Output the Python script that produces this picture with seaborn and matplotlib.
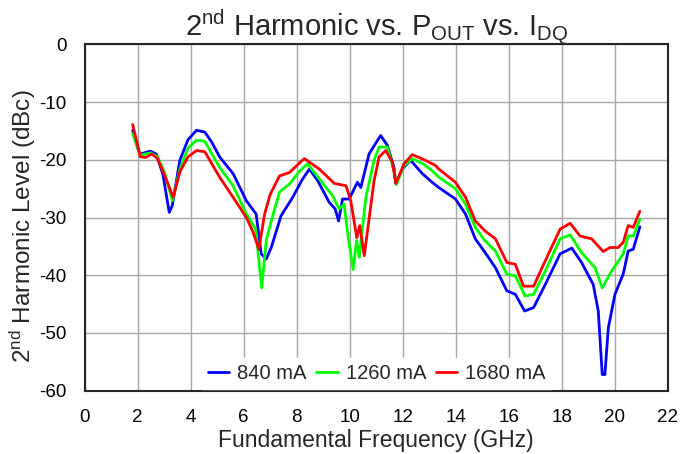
import numpy as np
import pandas as pd
import matplotlib
matplotlib.use("Agg")
import matplotlib.pyplot as plt
import seaborn as sns

# Second-harmonic level (dBc) vs fundamental frequency (GHz) for three quiescent currents
freq_840 = [1.81, 2.0, 2.1, 2.47, 2.7, 2.95, 3.19, 3.3, 3.59, 3.9, 4.22, 4.53, 4.8, 5.09,
            5.6, 6.1, 6.47, 6.66, 6.85, 7.04, 7.41, 7.85, 8.2, 8.48, 8.79, 9.23, 9.45,
            9.58, 9.73, 9.98, 10.29, 10.42, 10.73, 11.0, 11.17, 11.42, 11.67, 11.74,
            12.0, 12.3, 12.74, 13.11, 13.36, 13.99, 14.37, 14.74, 15.1, 15.5, 15.93,
            16.25, 16.6, 16.94, 17.38, 17.94, 18.38, 18.75, 19.19, 19.38, 19.53, 19.63,
            19.76, 20.01, 20.32, 20.51, 20.7, 20.95]
h2_840 = [-14.9, -18.0, -19.0, -18.5, -19.0, -22.5, -29.1, -28.0, -20.1, -16.5, -14.9,
          -15.2, -17.0, -19.5, -22.4, -27.1, -29.4, -36.3, -37.2, -35.2, -29.7, -26.5,
          -23.5, -21.6, -23.6, -27.4, -28.5, -30.6, -26.8, -26.8, -23.9, -24.8, -19.0,
          -17.0, -15.8, -17.5, -21.3, -24.1, -21.5, -20.1, -22.4, -23.9, -24.8, -26.8,
          -29.4, -33.7, -36.0, -38.7, -42.7, -43.3, -46.2, -45.6, -41.6, -36.3, -35.3,
          -37.8, -41.6, -46.2, -57.2, -57.2, -49.1, -43.3, -39.8, -35.8, -35.5, -31.6]

freq_1260 = [1.81, 2.1, 2.5, 2.75, 3.0, 3.31, 3.6, 3.9, 4.22, 4.53, 5.09, 5.6, 6.1, 6.45,
             6.68, 6.85, 7.04, 7.35, 7.73, 8.1, 8.41, 8.85, 9.35, 9.6, 9.79, 9.95, 10.13,
             10.26, 10.36, 10.61, 10.92, 11.11, 11.42, 11.67, 11.76, 12.05, 12.36, 12.8,
             13.11, 13.36, 13.99, 14.37, 14.74, 15.1, 15.5, 15.93, 16.25, 16.62, 16.94,
             17.38, 17.94, 18.32, 18.75, 19.26, 19.53, 19.88, 20.32, 20.51, 20.7, 20.95]
h2_1260 = [-15.5, -19.2, -18.8, -19.5, -22.0, -27.1, -21.5, -18.0, -16.6, -16.8, -21.3,
           -24.5, -29.4, -32.0, -42.2, -34.0, -30.6, -25.6, -24.2, -22.0, -20.7, -23.3,
           -26.2, -28.5, -27.7, -33.7, -39.0, -34.0, -36.9, -26.5, -20.1, -17.8, -17.8,
           -21.9, -24.3, -21.0, -19.8, -20.8, -21.9, -23.0, -25.0, -27.7, -31.7, -34.0,
           -35.8, -39.8, -40.1, -43.6, -43.3, -39.3, -33.7, -33.0, -36.1, -38.7, -42.2,
           -39.3, -36.3, -33.2, -33.2, -30.3]

freq_1680 = [1.81, 2.1, 2.3, 2.53, 2.75, 3.0, 3.34, 3.6, 3.9, 4.22, 4.53, 5.09, 5.6, 6.1,
             6.35, 6.57, 6.79, 7.0, 7.35, 7.73, 8.0, 8.29, 8.85, 9.42, 9.86, 10.04, 10.27,
             10.38, 10.55, 10.92, 11.11, 11.36, 11.61, 11.74, 12.05, 12.36, 12.86, 13.24,
             13.36, 13.99, 14.37, 14.74, 15.1, 15.5, 15.93, 16.25, 16.56, 16.94, 17.38,
             17.94, 18.32, 18.69, 19.13, 19.57, 19.82, 20.13, 20.32, 20.51, 20.7, 20.95]
h2_1680 = [-13.9, -19.5, -19.6, -19.0, -19.8, -22.5, -26.5, -22.0, -19.5, -18.4, -18.6,
           -23.0, -26.5, -30.0, -32.5, -35.5, -29.4, -26.0, -22.8, -22.2, -21.0, -19.8,
           -21.6, -24.1, -24.5, -27.1, -33.5, -31.4, -36.6, -23.6, -19.5, -18.4, -20.4,
           -24.1, -20.7, -19.1, -20.1, -21.0, -21.6, -23.9, -26.5, -30.6, -32.3, -33.7,
           -37.8, -38.1, -41.9, -41.9, -37.5, -32.0, -31.0, -33.2, -33.7, -35.9, -35.2,
           -35.2, -34.3, -31.4, -31.7, -28.9]

series_names = ["840 mA", "1260 mA", "1680 mA"]
series_colors = ["#0000ff", "#00ff00", "#ff0000"]
x_ticks = list(range(0, 23, 2))
y_ticks = list(range(-60, 1, 10))

frames = []
for name, f, h in zip(series_names,
                      [freq_840, freq_1260, freq_1680],
                      [h2_840, h2_1260, h2_1680]):
    frames.append(pd.DataFrame({"freq": f, "level": h, "idq": name}))
df = pd.concat(frames, ignore_index=True)

sns.set_theme(style="whitegrid")
plt.rcParams["font.family"] = ["Liberation Sans", "DejaVu Sans"]
plt.rcParams["mathtext.fontset"] = "custom"
plt.rcParams["mathtext.rm"] = "Liberation Sans"
plt.rcParams["mathtext.it"] = "Liberation Sans:italic"
plt.rcParams["axes.unicode_minus"] = False

fig, ax = plt.subplots(figsize=(6.81, 4.54), dpi=100)
fig.subplots_adjust(left=84.7 / 681, right=667.7 / 681,
                    top=1 - 44.3 / 454, bottom=1 - 390.7 / 454)

sns.lineplot(data=df, x="freq", y="level", hue="idq", hue_order=series_names,
             palette=series_colors, linewidth=2.0, sort=False, ax=ax,
             estimator=None)

ax.set_xlim(0, 22)
ax.set_ylim(-60, 0)
ax.set_xticks(x_ticks)
ax.set_yticks(y_ticks)
ax.tick_params(axis="both", length=0, labelsize=13.5, colors="black")
ax.tick_params(axis="x", pad=13)
ax.tick_params(axis="y", pad=13)
ax.grid(True, color="#a6a6a6", linewidth=1.0)
for sp in ax.spines.values():
    sp.set_color("#262626")
    sp.set_linewidth(1.5)

ax.set_title(r"2$^{\mathrm{nd}}$ Harmonic vs. P$_{\mathrm{OUT}}$ vs. I$_{\mathrm{DQ}}$",
             fontsize=21, pad=6)
ax.set_xlabel("Fundamental Frequency (GHz)", fontsize=16.5, labelpad=2)
ax.set_ylabel(r"2$^{\mathrm{nd}}$ Harmonic Level (dBc)", fontsize=17.5)
ax.yaxis.set_label_coords(-0.080, 0.475)

leg = ax.legend(loc="lower center", bbox_to_anchor=(0.501, 0.0), ncol=3,
                fontsize=14.5, frameon=True,
                handlelength=1.05, handletextpad=0.4, columnspacing=0.5,
                borderaxespad=0.1, borderpad=0.3, fancybox=False)
leg.get_frame().set_facecolor("white")
leg.get_frame().set_edgecolor("white")
leg.get_frame().set_alpha(1.0)
for line in leg.get_lines():
    line.set_linewidth(2.0)

fig.savefig("out.png", dpi=100)
